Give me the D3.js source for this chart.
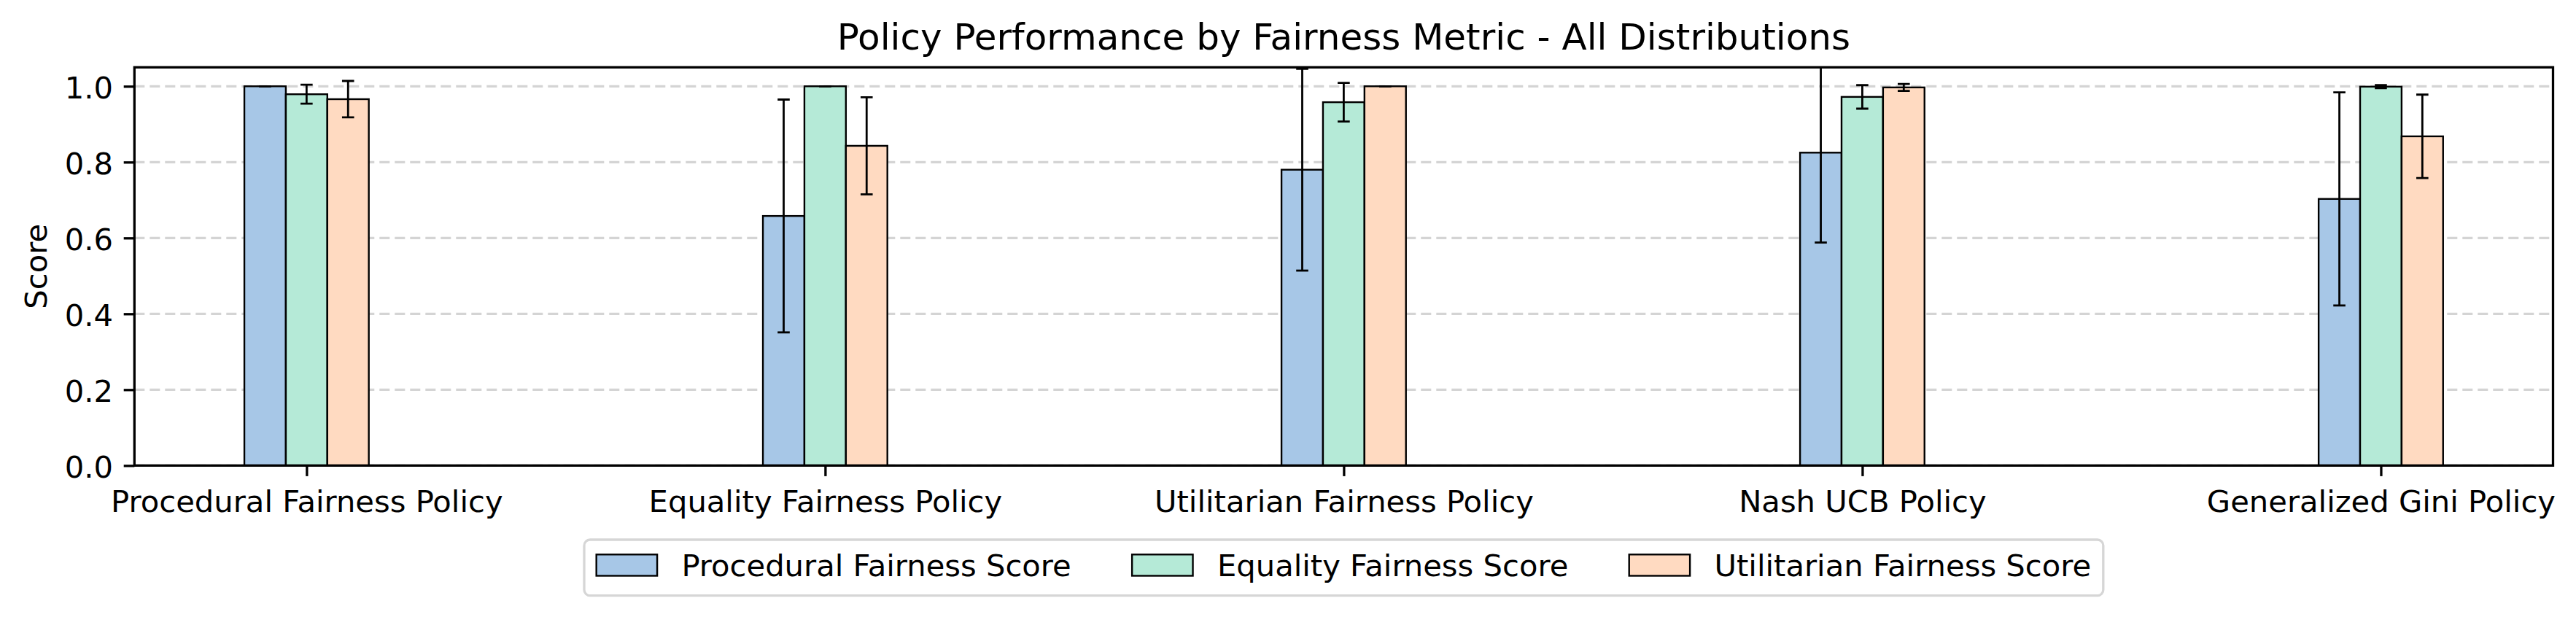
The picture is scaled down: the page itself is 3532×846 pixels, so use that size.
<!DOCTYPE html>
<html>
<head>
<meta charset="utf-8">
<script src="https://cdn.jsdelivr.net/npm/d3@7"></script>
<style>
  html, body { margin: 0; padding: 0; background: #ffffff; }
  svg { display: block; }
  text { font-family: "DejaVu Sans", sans-serif; fill: #000; }
</style>
</head>
<body>
<svg id="chart" width="3532" height="846"></svg>
<script>
// ---- data ----
const categories = [
  "Procedural Fairness Policy",
  "Equality Fairness Policy",
  "Utilitarian Fairness Policy",
  "Nash UCB Policy",
  "Generalized Gini Policy"
];
const seriesNames = ["Procedural Fairness Score", "Equality Fairness Score", "Utilitarian Fairness Score"];
const proceduralScores = [1.000, 0.658, 0.780, 0.825, 0.703];
const proceduralErrors = [0.000, 0.307, 0.266, 0.237, 0.281];
const equalityScores   = [0.979, 1.000, 0.958, 0.972, 0.999];
const equalityErrors   = [0.025, 0.000, 0.051, 0.031, 0.004];
const utilitarianScores = [0.966, 0.843, 1.000, 0.997, 0.868];
const utilitarianErrors = [0.048, 0.128, 0.000, 0.009, 0.110];
const yTicks = [0.0, 0.2, 0.4, 0.6, 0.8, 1.0];
const seriesColors = ["#A7C7E7", "#B5EAD7", "#FFDAC1"];
const titleText = "Policy Performance by Fairness Metric - All Distributions";
const yLabelText = "Score";

// ---- layout ----
const W = 3532, H = 846;
const plotL = 184.3, plotR = 3500.5, plotT = 92.3, plotB = 638.3;
const barW = 0.08;
const fs = 41.7;      // 10pt @ 300dpi
const titleFs = 50;   // 12pt
const tickLen = 14.6, tickPad = 14.6;

const svg = d3.select("#chart");
svg.append("rect").attr("width", W).attr("height", H).attr("fill", "#fff");

const x = d3.scaleLinear().domain([-0.332, 4.332]).range([plotL, plotR]);
const y = d3.scaleLinear().domain([0, 1.05]).range([plotB, plotT]);

const series = [
  { name: seriesNames[0], values: proceduralScores, errors: proceduralErrors, color: seriesColors[0] },
  { name: seriesNames[1], values: equalityScores, errors: equalityErrors, color: seriesColors[1] },
  { name: seriesNames[2], values: utilitarianScores, errors: utilitarianErrors, color: seriesColors[2] }
];

svg.append("defs").append("clipPath").attr("id", "plotclip")
  .append("rect").attr("x", plotL).attr("y", plotT)
  .attr("width", plotR - plotL).attr("height", plotB - plotT);

// grid
svg.append("g").selectAll("line").data(yTicks).join("line")
  .attr("x1", plotL).attr("x2", plotR)
  .attr("y1", d => y(d)).attr("y2", d => y(d))
  .attr("stroke", "#d4d4d4").attr("stroke-width", 3.2)
  .attr("stroke-dasharray", "14,7");

// bars
const plot = svg.append("g").attr("clip-path", "url(#plotclip)");
series.forEach((s, j) => {
  const off = (j - 1) * barW;
  plot.append("g").selectAll("rect").data(s.values).join("rect")
    .attr("x", (d, i) => x(i + off - barW / 2))
    .attr("width", (d, i) => x(i + off + barW / 2) - x(i + off - barW / 2))
    .attr("y", d => y(d))
    .attr("height", d => y(0) - y(d))
    .attr("fill", s.color)
    .attr("stroke", "#000").attr("stroke-width", 2.4);
});
// error bars
series.forEach((s, j) => {
  const off = (j - 1) * barW;
  const g = plot.append("g");
  s.values.forEach((v, i) => {
    const cx = x(i + off);
    const lo = y(v - s.errors[i]), hi = y(v + s.errors[i]);
    g.append("line").attr("x1", cx).attr("x2", cx).attr("y1", lo).attr("y2", hi)
      .attr("stroke", "#000").attr("stroke-width", 2.8);
    [lo, hi].forEach(yy => {
      g.append("line").attr("x1", cx - 8.3).attr("x2", cx + 8.3).attr("y1", yy).attr("y2", yy)
        .attr("stroke", "#000").attr("stroke-width", 2.8);
    });
  });
});

// axes
const yAxis = svg.append("g").attr("transform", `translate(${plotL},0)`)
  .call(d3.axisLeft(y).tickValues(yTicks).tickFormat(d3.format(".1f")).tickSize(tickLen).tickPadding(tickPad));
yAxis.select(".domain").remove();
yAxis.selectAll(".tick line").attr("stroke", "#000").attr("stroke-width", 3.3);
yAxis.selectAll(".tick text").attr("font-size", fs).attr("font-family", "DejaVu Sans").attr("dy", "0.38em");

const xAxis = svg.append("g").attr("transform", `translate(0,${plotB})`)
  .call(d3.axisBottom(x).tickValues(d3.range(categories.length)).tickFormat(i => categories[i]).tickSize(tickLen).tickPadding(tickPad));
xAxis.select(".domain").remove();
xAxis.selectAll(".tick line").attr("stroke", "#000").attr("stroke-width", 3.3);
xAxis.selectAll(".tick text").attr("font-size", fs).attr("font-family", "DejaVu Sans")
  .attr("y", 63.7).attr("dy", "0");

// spines
svg.append("rect").attr("x", plotL).attr("y", plotT)
  .attr("width", plotR - plotL).attr("height", plotB - plotT)
  .attr("fill", "none").attr("stroke", "#000").attr("stroke-width", 3.3);

// title
svg.append("text").attr("x", (plotL + plotR) / 2).attr("y", 68)
  .attr("text-anchor", "middle").attr("font-size", titleFs).text(titleText);

// y label
svg.append("text").attr("transform", `translate(64,${(plotT + plotB) / 2}) rotate(-90)`)
  .attr("text-anchor", "middle").attr("font-size", fs).text(yLabelText);

// legend
const leg = svg.append("g");
const patchW = 2.0 * fs, patchH = 0.7 * fs, textPad = 0.8 * fs, colSp = 2.0 * fs, borderPad = 0.4 * fs;
const legTop = 740, legBot = 816.7;
const patchTop = 760.3;
const items = series.map(s => {
  const t = leg.append("text").attr("font-size", fs).attr("y", patchTop + patchH / 2).attr("dy", "0.36em").text(s.name);
  return { s, t, w: t.node().getComputedTextLength() };
});
const totalW = items.reduce((a, it) => a + patchW + textPad + it.w, 0) + colSp * (items.length - 1);
const boxW = totalW + 2 * borderPad;
const boxL = (plotL + plotR) / 2 - boxW / 2;
leg.insert("rect", ":first-child").attr("x", boxL).attr("y", legTop)
  .attr("width", boxW).attr("height", legBot - legTop)
  .attr("rx", 8).attr("ry", 8)
  .attr("fill", "#fff").attr("stroke", "#d6d6d6").attr("stroke-width", 3.3);
let cx = boxL + borderPad;
items.forEach(it => {
  leg.append("rect").attr("x", cx).attr("y", patchTop).attr("width", patchW).attr("height", patchH)
    .attr("fill", it.s.color).attr("stroke", "#000").attr("stroke-width", 2.4);
  it.t.attr("x", cx + patchW + textPad);
  cx += patchW + textPad + it.w + colSp;
});
</script>
</body>
</html>
